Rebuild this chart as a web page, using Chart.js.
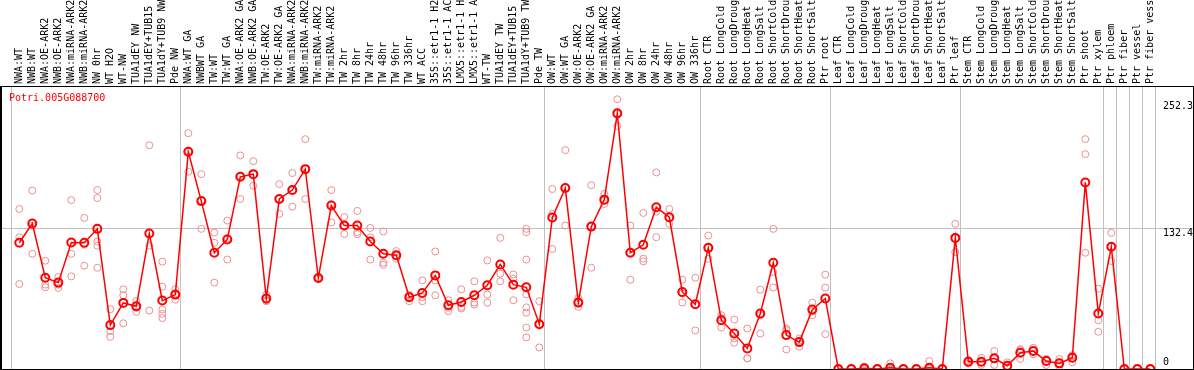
<!DOCTYPE html>
<html>
<head>
<meta charset="utf-8">
<title>Potri.005G088700</title>
<script src="https://cdn.jsdelivr.net/npm/chart.js@4.4.0/dist/chart.umd.min.js"></script>
<style>
  html, body { margin: 0; padding: 0; background: #fff; }
  canvas { display: block; }
</style>
</head>
<body>
<canvas id="expressionChart" width="1194" height="370"></canvas>
<script>
const geneName = 'Potri.005G088700';

const samples = [
  'NWA:WT', 'NWB:WT', 'NWA:OE-ARK2', 'NWB:OE-ARK2', 'NWA:miRNA-ARK2', 'NWB:miRNA-ARK2',
  'NW 0hr', 'WT H2O', 'WT-NW', 'TUA1dEY NW', 'TUA1dEY+TUB15 NW', 'TUA1dY+TUB9 NW', 'Pde NW',
  'NWA:WT GA', 'NWBWT GA', 'TW:WT', 'TW:WT GA', 'NWA:OE-ARK2 GA', 'NWB:OE-ARK2 GA',
  'TW:OE-ARK2', 'TW:OE-ARK2 GA', 'NWA:miRNA-ARK2 GA', 'NWB:miRNA-ARK2 GA', 'TW:miRNA-ARK2',
  'TW:miRNA-ARK2 GA', 'TW 2hr', 'TW 8hr', 'TW 24hr', 'TW 48hr', 'TW 96hr', 'TW 336hr',
  'WT ACC', '35S::etr1-1 H2O', '35S::etr1-1 ACC', 'LMX5::etr1-1 H2O', 'LMX5::etr1-1 ACC',
  'WT-TW', 'TUA1dEY TW', 'TUA1dEY+TUB15 TW', 'TUA1dY+TUB9 TW', 'Pde TW',
  'OW:WT', 'OW:WT GA', 'OW:OE-ARK2', 'OW:OE-ARK2 GA', 'OW:miRNA-ARK2', 'OW:miRNA-ARK2 GA',
  'OW 2hr', 'OW 8hr', 'OW 24hr', 'OW 48hr', 'OW 96hr', 'OW 336hr',
  'Root CTR', 'Root LongCold', 'Root LongDrought', 'Root LongHeat', 'Root LongSalt',
  'Root ShortCold', 'Root ShortDrought', 'Root ShortHeat', 'Root ShortSalt', 'Ptr root',
  'Leaf CTR', 'Leaf LongCold', 'Leaf LongDrought', 'Leaf LongHeat', 'Leaf LongSalt',
  'Leaf ShortCold', 'Leaf ShortDrought', 'Leaf ShortHeat', 'Leaf ShortSalt', 'Ptr leaf',
  'Stem CTR', 'Stem LongCold', 'Stem LongDrought', 'Stem LongHeat', 'Stem LongSalt',
  'Stem ShortCold', 'Stem ShortDrought', 'Stem ShortHeat', 'Stem ShortSalt', 'Ptr shoot',
  'Ptr xylem', 'Ptr phloem', 'Ptr fiber', 'Ptr vessel', 'Ptr fiber vessel'
];

const meanValues = [
  118.8, 136.9, 85.9, 81.3, 119, 118.8, 131.9, 41.3, 62.2, 59, 127.5, 64.4, 70,
  204.4, 158, 109.4, 121.9, 180.9, 183.4, 66.3, 160, 168.4, 188.1, 85.6, 153.8,
  135, 135, 120, 108.4, 107, 67.5, 71.6, 88.1, 60, 63.1, 69.4, 78.8, 98.4, 79.4, 76.9, 42.2,
  142.5, 170.3, 62.5, 134, 159.4, 240.6, 109.4, 116.9, 152.2, 142.8, 72.5, 60.9,
  114, 45.9, 33.4, 19.4, 52.2, 100, 31.9, 25.3, 55.9, 66.3,
  0, 0, 0.6, 0, 1.2, 0, 0, 1.2, 0, 123.4,
  6.9, 6.9, 10, 3.1, 15.3, 16.9, 7.5, 5.3, 10.6, 175.6,
  52.2, 115, 0, 0, 0
];

const replicateValues = [
  [150.6, 124, 80], [168, 135, 108.4], [101.9, 79.4, 76.9], [86.6, 79.4, 76.3],
  [159, 108.4, 87.2], [142.2, 117, 97.2], [168.4, 160.9, 120, 116, 95.3], [56.3, 35.6, 30.3],
  [75, 69.4, 43], [64, 57.5, 53.8], [210.6, 116, 55], [101, 77.5, 56, 51.9, 48], [75, 70, 65.3],
  [221.9, 205.6, 185.6], [183.4, 158.7, 131.9], [128.4, 118.8, 81.3], [139.7, 123, 103],
  [201, 181.7, 160], [195.6, 183, 172.5], [70, 64.7, 63.8], [174, 160, 146], [184.4, 168, 152.8],
  [216.3, 188, 160], [86.5, 85.5, 84.8], [168.4, 155, 138], [143, 135, 127], [148.8, 128.8, 126.9],
  [132.8, 124, 103], [129.4, 100, 98], [111, 106.5, 103.8], [70, 68.5, 63.8], [83.4, 67.6, 63.8],
  [110.6, 83.4, 69.4], [64.7, 57.5, 54.4], [75, 58.4, 56.9], [82.5, 62.5, 60.6], [102.2, 70, 62.5],
  [123.4, 89.7, 82.5], [89, 85, 64.7], [131.9, 128.8, 103, 70.3, 58, 53, 39, 29.7], [63.8, 42.5, 20.3],
  [169.4, 146, 113], [206, 170.3, 135], [66.9, 62.5, 58.4], [173, 134, 95.3], [164.7, 158.5, 155.3],
  [253.8, 240, 228.8], [135, 109.4, 84], [146.9, 103.8, 101.3], [185, 148, 124], [150.6, 141.9, 136.6],
  [84, 71, 62.5], [85.9, 60.9, 36.3],
  [125.6, 114, 103.8], [50.6, 48, 39], [46.6, 28.8, 24.7], [38.1, 10, 10], [74.7, 50.6, 33.4],
  [131.9, 91.3, 76.6], [38.1, 36.6, 18.4], [28.8, 26.5, 20.9], [62.5, 54.5, 50.6], [88.8, 76.6, 32.8],
  [0, 0, 0], [0, 0, 0], [2.2, 0, 0], [0, 0, 0], [5.3, 0, 0], [0, 0, 0], [0, 0, 0], [7.5, 0, 0], [0, 0, 0],
  [136.6, 123, 110],
  [8.4, 6.9, 5.3], [10.6, 6.3, 3.8], [16.9, 9.3, 3.8], [6.3, 1.7, 1.3], [17.8, 18.7, 9.4],
  [20, 16.9, 13.8], [9.4, 9.3, 3.8], [9.4, 4.3, 2.2], [13.1, 12.4, 6.3], [216.3, 202.2, 109.4],
  [75.6, 45.9, 35], [128.1, 115, 101.6], [0, 0, 0], [0, 0, 0], [0, 0, 0]
];

const yTickValues = [0, 132.4, 252.3];

// index of the last sample in each group (-1 = left edge)
const groupEnds = [-1, 12, 40, 52, 62, 72, 83, 84, 85, 86, 87];

const monoFont = '"DejaVu Sans Mono", monospace';

const meanPoints = meanValues.map((v, i) => ({ x: i, y: v }));
const replicatePoints = [];
replicateValues.forEach((reps, i) => {
    reps.forEach(v => replicatePoints.push({ x: i, y: v }));
});

// no extra edge padding from the axes, the plot box is fixed
function noPad(s) {
    s.paddingLeft = 0;
    s.paddingRight = 0;
    s.paddingTop = 0;
    s.paddingBottom = 0;
}

const framePlugin = {
    id: 'frame',
    afterDraw(chart) {
        const { ctx, chartArea } = chart;
        const yScale = chart.scales.y;
        ctx.save();
        ctx.strokeStyle = '#000';
        ctx.lineWidth = 1;
        ctx.strokeRect(0.5, chartArea.top - 0.5, chartArea.right, chartArea.bottom - chartArea.top + 1);
        ctx.beginPath();
        ctx.moveTo(1.5, chartArea.top);
        ctx.lineTo(1.5, chartArea.bottom);
        ctx.stroke();

        ctx.font = '10px ' + monoFont;
        ctx.fillStyle = '#ff0000';
        ctx.textAlign = 'left';
        ctx.textBaseline = 'middle';
        ctx.fillText(geneName, chartArea.left + 8, chartArea.top + 11);

        // y labels hang just under their value, the 0 label sits above it
        ctx.fillStyle = '#000';
        ctx.textBaseline = 'alphabetic';
        yTickValues.forEach(v => {
            const py = yScale.getPixelForValue(v);
            ctx.fillText(String(v), chartArea.right - 30, v === 0 ? py - 4 : py + 8);
        });
        ctx.restore();
    }
};

new Chart(document.getElementById('expressionChart'), {
    type: 'line',
    data: {
        datasets: [
            {
                label: 'mean',
                data: meanPoints,
                borderColor: '#ff0000',
                borderWidth: 1.5,
                pointRadius: 4,
                pointBorderWidth: 2,
                pointBorderColor: '#ff0000',
                pointBackgroundColor: 'rgba(0,0,0,0)',
                tension: 0
            },
            {
                label: 'replicates',
                data: replicatePoints,
                showLine: false,
                pointRadius: 3.5,
                pointBorderWidth: 1,
                pointBorderColor: '#eb8f8f',
                pointBackgroundColor: 'rgba(0,0,0,0)'
            }
        ]
    },
    options: {
        responsive: false,
        animation: false,
        devicePixelRatio: 1,
        layout: { autoPadding: false, padding: { left: 1, right: 1, top: 0, bottom: 1 } },
        plugins: { legend: { display: false }, tooltip: { enabled: false }, title: { display: false } },
        scales: {
            x: {
                type: 'linear',
                position: 'top',
                min: -1.4077,
                max: 90.2846,
                bounds: 'data',
                afterBuildTicks: s => { s.ticks = samples.map((_, i) => ({ value: i })); },
                afterFit: s => { s.height = 87; noPad(s); },
                grid: { display: false, drawTicks: false },
                border: { display: false },
                ticks: {
                    autoSkip: false,
                    minRotation: 90,
                    maxRotation: 90,
                    padding: 3,
                    labelOffset: 12,
                    color: '#000',
                    font: { family: monoFont, size: 10 },
                    callback: (value, index) => samples[index]
                }
            },
            groups: {
                type: 'linear',
                position: 'bottom',
                min: -1.4077,
                max: 90.2846,
                bounds: 'data',
                afterBuildTicks: s => { s.ticks = groupEnds.map(i => ({ value: i + 0.38 })); },
                afterFit: s => { s.height = 0; noPad(s); },
                grid: { color: '#c0c0c0', lineWidth: 1, drawTicks: false },
                border: { display: false },
                ticks: { display: false }
            },
            y: {
                type: 'linear',
                position: 'right',
                min: 0,
                max: 265.4,
                bounds: 'data',
                afterBuildTicks: s => { s.ticks = yTickValues.map(v => ({ value: v })); },
                afterFit: s => { s.width = 0; noPad(s); },
                grid: {
                    color: ctx => ctx.index === 1 ? '#c0c0c0' : 'rgba(0,0,0,0)',
                    drawTicks: false
                },
                border: { display: false },
                ticks: { display: false }
            }
        }
    },
    plugins: [framePlugin]
});
</script>
</body>
</html>
